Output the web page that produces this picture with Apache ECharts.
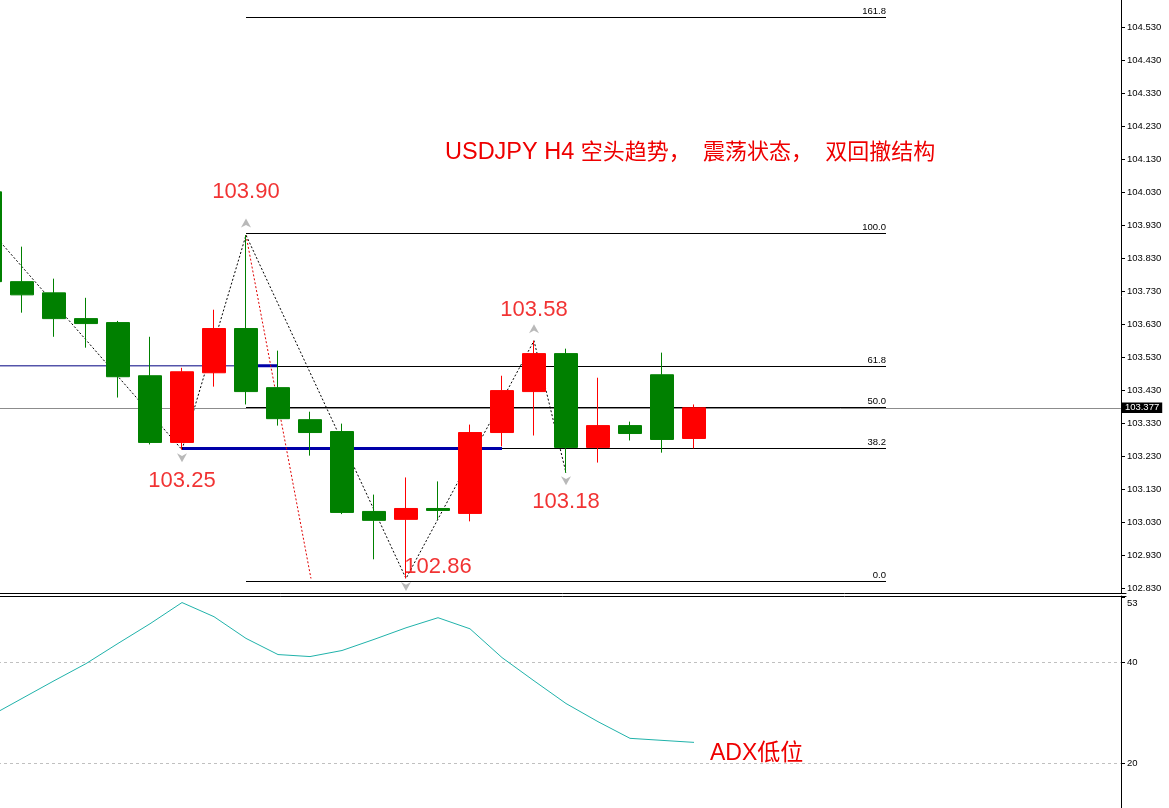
<!DOCTYPE html>
<html>
<head>
<meta charset="utf-8">
<script src="https://cdn.jsdelivr.net/npm/echarts@6/dist/echarts.min.js"></script>
<style>
html,body{margin:0;padding:0;background:#fff;}
#c{width:1169px;height:808px;}
</style>
</head>
<body>
<div id="c"></div>
<script>
// ---------- DATA ----------
const SLOTS = 36;                       // bar slots on the time axis (23 used)
const OPEN  = [104.031,103.759,103.725,103.647,103.635,103.474,103.272,103.483,103.617,103.438,103.341,103.305,103.063,103.039,103.072,103.057,103.302,103.426,103.541,103.257,103.323,103.477,103.284];
const CLOSE = [103.759,103.719,103.647,103.632,103.471,103.272,103.486,103.617,103.426,103.344,103.302,103.060,103.036,103.072,103.066,103.302,103.429,103.541,103.257,103.323,103.299,103.281,103.377];
const LOW   = [103.740,103.665,103.592,103.559,103.408,103.266,103.250,103.441,103.387,103.323,103.232,103.055,102.918,102.860,103.039,103.033,103.260,103.293,103.180,103.211,103.278,103.241,103.254];
const HIGH  = [104.050,103.865,103.768,103.710,103.640,103.592,103.498,103.674,103.900,103.550,103.365,103.329,103.114,103.166,103.154,103.326,103.474,103.580,103.556,103.468,103.335,103.544,103.387];
const ADX   = [29.4,32.9,36.4,39.8,43.8,47.7,51.9,49.1,44.8,41.6,41.2,42.4,44.6,46.9,48.9,46.7,41.0,36.4,31.9,28.3,25.0,24.6,24.2];

const PRICE_TICKS = [102.83,102.93,103.03,103.13,103.23,103.33,103.43,103.53,103.63,103.73,103.83,103.93,104.03,104.13,104.23,104.33,104.43,104.53];
const ADX_TICKS = [20,40,53];
const PRICE_MIN = 102.816, PRICE_MAX = 104.612;
const ADX_MIN = 11.2, ADX_MAX = 53.2;
const BID = 103.377;

// zigzag swing points [bar index, price]
const ZIGZAG = [[0,103.915],[6,103.25],[8,103.90],[13,102.86],[17,103.58],[18,103.18]];
const SWING_HIGHS = [[8,103.90],[17,103.58]];
const SWING_LOWS  = [[6,103.25],[13,102.86],[18,103.18]];
const RED_TREND = [[8,103.90],[10.03,102.86]];

// Fibonacci
const FIB_HIGH = 103.907, FIB_LOW = 102.851;
const FIB_LEVELS = [0, 38.2, 50, 61.8, 100, 161.8];
const FIB_X = [8, 28];
const BLUE_THICK = [[6,103.254],[16,103.254]];
const NAVY_THIN  = [[-0.5,103.504],[9,103.504]];
const NAVY_THICK = [[8.375,103.504],[9,103.504]];

const TITLE_LATIN = 'USDJPY H4 ';
const TITLE_CJK = '空头趋势，  震荡状态，  双回撤结构';
const NOTE = 'ADX低位';

// ---------- STYLE ----------
const FONT = "'Liberation Sans', Arial, 'Noto Sans CJK SC', sans-serif";
const RED_TXT = '#ee0000';
const AXIS_FONT = 9.5;
const LABEL_OFFSETS = {
  '6':[0,31], '8':[0,-43], '13':[32,-12], '17':[0,-31], '18':[0,29]
};
const X_END = 35.34; // position of the price-scale line

const cats = Array.from({length: SLOTS}, (_, i) => String(i));
const candles = OPEN.map((o, i) => [o, CLOSE[i], LOW[i], HIGH[i]]);
const fibPrice = lv => FIB_LOW + (FIB_HIGH - FIB_LOW) * lv / 100;

const fibLines = FIB_LEVELS.map(lv => [
  {coord: [FIB_X[0], fibPrice(lv)], label: {formatter: lv.toFixed(1)}},
  {coord: [FIB_X[1], fibPrice(lv)]}
]);

const swings = SWING_HIGHS.concat(SWING_LOWS).map(p => ({
  value: p,
  label: {offset: LABEL_OFFSETS[String(p[0])]}
}));

const chart = echarts.init(document.getElementById('c'), null, {renderer: 'canvas'});
const option = {
  animation: false,
  backgroundColor: '#ffffff',
  textStyle: {fontFamily: FONT},
  title: [
    {text: '{a|' + TITLE_LATIN + '}{b|' + TITLE_CJK + '}', left: 445, top: 141, padding: 0,
     textStyle: {color: RED_TXT, fontSize: 22, fontWeight: 'normal', fontFamily: FONT,
       rich: {a: {fontSize: 23.5, color: RED_TXT, fontFamily: FONT},
              b: {fontSize: 22, color: RED_TXT, fontFamily: FONT}}}},
    {text: NOTE, left: 710, top: 742, padding: 0,
     textStyle: {color: RED_TXT, fontSize: 23, fontWeight: 'normal', fontFamily: FONT}}
  ],
  grid: [
    {left: -26, right: 43, top: 0, height: 593, outerBoundsMode: 'none', containLabel: false},
    {left: -26, right: 43, top: 596, bottom: 0, outerBoundsMode: 'none', containLabel: false}
  ],
  xAxis: [
    {type: 'category', gridIndex: 0, data: cats, boundaryGap: true,
     axisLine: {show: true, onZero: false, lineStyle: {color: '#000', width: 1}},
     axisTick: {show: false}, axisLabel: {show: false}, splitLine: {show: false}},
    {type: 'value', gridIndex: 0, min: -0.5, max: SLOTS - 0.5, show: false},
    {type: 'value', gridIndex: 1, min: -0.5, max: SLOTS - 0.5, position: 'top',
     axisLine: {show: true, onZero: false, lineStyle: {color: '#000', width: 1}},
     axisTick: {show: false}, axisLabel: {show: false}, splitLine: {show: false}}
  ],
  yAxis: [
    {type: 'value', gridIndex: 0, position: 'right', offset: -5,
     min: PRICE_MIN, max: PRICE_MAX,
     axisLine: {show: true, onZero: false, lineStyle: {color: '#000', width: 1}},
     axisTick: {show: true, length: 4, customValues: PRICE_TICKS, lineStyle: {color: '#000'}},
     axisLabel: {customValues: PRICE_TICKS, formatter: v => v.toFixed(3), margin: 6,
                 color: '#000', fontSize: AXIS_FONT, fontFamily: FONT},
     splitLine: {show: false}},
    {type: 'value', gridIndex: 1, position: 'right', offset: -5,
     min: ADX_MIN, max: ADX_MAX,
     axisLine: {show: true, onZero: false, lineStyle: {color: '#000', width: 1}},
     axisTick: {show: true, length: 4, customValues: ADX_TICKS, lineStyle: {color: '#000'}},
     axisLabel: {customValues: ADX_TICKS, margin: 6, color: '#000', fontSize: AXIS_FONT, fontFamily: FONT,
                 formatter: v => v === 53 ? '{t|53}' : String(v),
                 rich: {t: {padding: [12, 0, 0, 0], fontSize: AXIS_FONT, color: '#000'}}},
     splitLine: {show: false}}
  ],
  series: [
    // Fibonacci lines
    {type: 'line', xAxisIndex: 1, yAxisIndex: 0, data: [], silent: true, z: 1,
     markLine: {silent: true, symbol: 'none', animation: false, z: 1,
       lineStyle: {color: '#000', width: 1, type: 'solid'},
       label: {show: true, position: 'insideEndTop', distance: [0, 1], color: '#000',
               fontSize: AXIS_FONT, fontFamily: FONT},
       data: fibLines}},
    // bid line
    {type: 'line', xAxisIndex: 1, yAxisIndex: 0, data: [], silent: true, z: 1,
     markLine: {silent: true, symbol: 'none', animation: false, z: 1,
       lineStyle: {color: '#8c8c8c', width: 1, type: 'solid'},
       label: {show: true, position: 'end', distance: 1, formatter: BID.toFixed(3),
               backgroundColor: '#000', color: '#fff', padding: [1, 3, 0, 3],
               fontSize: AXIS_FONT, fontFamily: FONT},
       data: [[{coord: [-0.5, BID]}, {coord: [X_END, BID]}]]}},
    // blue / navy support lines
    {type: 'line', xAxisIndex: 1, yAxisIndex: 0, data: NAVY_THIN, symbol: 'none', silent: true, z: 4,
     lineStyle: {color: '#000080', width: 1}},
    {type: 'line', xAxisIndex: 1, yAxisIndex: 0, data: NAVY_THICK, symbol: 'none', silent: true, z: 4,
     lineStyle: {color: '#0000a8', width: 3}},
    {type: 'line', xAxisIndex: 1, yAxisIndex: 0, data: BLUE_THICK, symbol: 'none', silent: true, z: 4,
     lineStyle: {color: '#0000a8', width: 3}},
    // red dotted trend
    {type: 'line', xAxisIndex: 1, yAxisIndex: 0, data: RED_TREND, symbol: 'none', silent: true, z: 4,
     lineStyle: {color: '#e00000', width: 1, type: [2, 2]}},
    // zigzag
    {type: 'line', xAxisIndex: 1, yAxisIndex: 0, data: ZIGZAG, symbol: 'none', silent: true, z: 4,
     lineStyle: {color: '#000', width: 1, type: [2, 2]}},
    // candles
    {type: 'candlestick', xAxisIndex: 0, yAxisIndex: 0, data: candles, barWidth: 24, z: 6,
     itemStyle: {color: '#ff0000', color0: '#008000', borderColor: '#ff0000', borderColor0: '#008000', borderWidth: 1}},
    // swing arrows
    {type: 'scatter', xAxisIndex: 1, yAxisIndex: 0, data: SWING_HIGHS, z: 7, silent: true,
     symbol: 'path://M0,10 L5,0 L10,10 L5,7 Z', symbolSize: [10, 9], symbolOffset: [0, -12],
     itemStyle: {color: '#a8a8a8'}},
    {type: 'scatter', xAxisIndex: 1, yAxisIndex: 0, data: SWING_LOWS, z: 7, silent: true,
     symbol: 'path://M0,0 L5,3 L10,0 L5,10 Z', symbolSize: [10, 9], symbolOffset: [0, 8],
     itemStyle: {color: '#a8a8a8'}},
    // swing labels
    {type: 'scatter', xAxisIndex: 1, yAxisIndex: 0, data: swings, z: 8, silent: true,
     symbolSize: 0,
     label: {show: true, position: 'inside', color: RED_TXT, fontSize: 22, fontFamily: FONT,
             formatter: p => p.value[1].toFixed(2)}},
    // ADX
    {type: 'line', xAxisIndex: 2, yAxisIndex: 1, data: ADX.map((v, i) => [i, v]),
     symbol: 'none', silent: true, z: 4,
     lineStyle: {color: '#20b2aa', width: 1},
     markLine: {silent: true, symbol: 'none', animation: false, z: 1, label: {show: false},
       lineStyle: {color: '#c0c0c0', width: 1, type: [3, 3]},
       data: [[{coord: [-0.5, 40]}, {coord: [X_END, 40]}], [{coord: [-0.5, 20]}, {coord: [X_END, 20]}]]}}
  ]
};
chart.setOption(option);
</script>
</body>
</html>
